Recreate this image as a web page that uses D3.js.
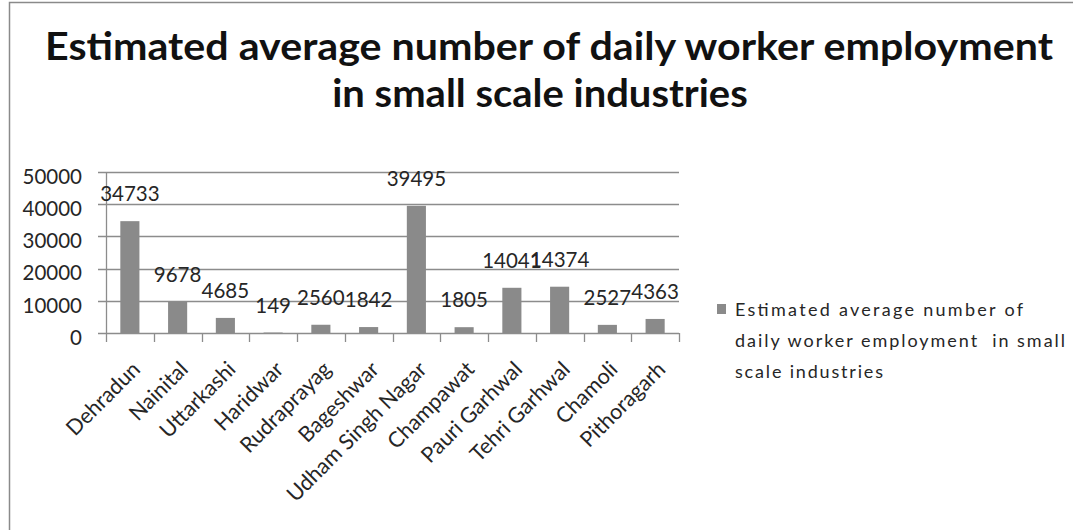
<!DOCTYPE html>
<html>
<head>
<meta charset="utf-8">
<script src="https://cdn.jsdelivr.net/npm/d3@7/dist/d3.min.js"></script>
<style>
  html, body { margin: 0; padding: 0; background: #fff; }
  svg { display: block; }
  text { font-family: Lato, "Open Sans", sans-serif; }
</style>
</head>
<body>
<svg id="chart" width="1073" height="530"></svg>
<script>
// District-wise daily worker employment in small scale industries
const districts = ["Dehradun", "Nainital", "Uttarkashi", "Haridwar", "Rudraprayag", "Bageshwar",
  "Udham Singh Nagar", "Champawat", "Pauri Garhwal", "Tehri Garhwal", "Chamoli", "Pithoragarh"];
const workers = [34733, 9678, 4685, 149, 2560, 1842, 39495, 1805, 14041, 14374, 2527, 4363];
const yTicks = [0, 10000, 20000, 30000, 40000, 50000];
const titleLines = ["Estimated average number of daily worker employment", "in small scale industries"];
const legendLines = ["Estimated average number of", "daily worker employment  in small", "scale industries"];

const svg = d3.select("#chart");
const W = 1073, H = 530;
const plot = { left: 106, right: 679, top: 172, bottom: 333 };
const barColor = "#8a8a8a";
const lineColor = "#8c8c8c";
const textColor = "#262626";

// outer chart border
svg.append("rect")
  .attr("x", 9.5).attr("y", 2.5)
  .attr("width", W + 20).attr("height", H + 20)
  .attr("fill", "#fff").attr("stroke", "#8a8a8a").attr("stroke-width", 1.5);

// title, stretched to a common width
const titleG = svg.append("g").attr("fill", "#111").attr("font-weight", "bold").attr("font-size", 39);
const t1 = titleG.append("text").attr("x", 549).attr("y", 60).attr("text-anchor", "middle").text(titleLines[0]);
const t2 = titleG.append("text").attr("x", 540).attr("y", 107).attr("text-anchor", "middle").text(titleLines[1]);
const k = 1008 / t1.node().getComputedTextLength();
t1.attr("textLength", 1008).attr("lengthAdjust", "spacingAndGlyphs");
t2.attr("textLength", t2.node().getComputedTextLength() * k * 0.97).attr("lengthAdjust", "spacingAndGlyphs");

const x = d3.scaleBand().domain(districts).range([plot.left, plot.right])
  .paddingInner(0.6).paddingOuter(0.3);
const y = d3.scaleLinear().domain([0, 50000]).range([plot.bottom, plot.top]);

// horizontal gridlines
svg.append("g").selectAll("line").data(yTicks).join("line")
  .attr("x1", plot.left - 8).attr("x2", plot.right)
  .attr("y1", d => Math.round(y(d)) + 0.5).attr("y2", d => Math.round(y(d)) + 0.5)
  .attr("stroke", lineColor).attr("stroke-width", 1.3);

// y axis labels
const yAxis = svg.append("g").attr("transform", `translate(${plot.left},0)`)
  .call(d3.axisLeft(y).tickValues(yTicks).tickSize(0).tickPadding(24).tickFormat(d3.format("d")));
yAxis.select(".domain").remove();
yAxis.selectAll("text").attr("font-size", 20.5).attr("fill", textColor).attr("dy", "0.55em")
  .attr("font-family", "Lato, sans-serif");

// bars
svg.append("g").selectAll("rect").data(workers).join("rect")
  .attr("x", (d, i) => x(districts[i]))
  .attr("width", x.bandwidth())
  .attr("y", d => y(d))
  .attr("height", d => y(0) - y(d))
  .attr("fill", barColor);

// axis lines
svg.append("line")
  .attr("x1", plot.left + 0.5).attr("x2", plot.left + 0.5)
  .attr("y1", plot.top).attr("y2", plot.bottom)
  .attr("stroke", lineColor).attr("stroke-width", 1.3);

// category boundary ticks on the x axis
const boundaries = d3.range(districts.length + 1).map(i => plot.left + i * x.step());
svg.append("g").selectAll("line").data(boundaries).join("line")
  .attr("x1", d => Math.round(d) + 0.5).attr("x2", d => Math.round(d) + 0.5)
  .attr("y1", plot.bottom).attr("y2", plot.bottom + 9)
  .attr("stroke", lineColor).attr("stroke-width", 1.3);

// value labels above bars
svg.append("g").selectAll("text").data(workers).join("text")
  .attr("x", (d, i) => x(districts[i]) + x.bandwidth() / 2)
  .attr("y", d => y(d) - 20)
  .attr("text-anchor", "middle")
  .attr("font-size", 20.5).attr("fill", textColor)
  .text(d => d);

// rotated category labels
svg.append("g").selectAll("text").data(districts).join("text")
  .attr("transform", d => `translate(${x(d) + x.bandwidth() / 2 + 1},${plot.bottom + 27}) rotate(-45)`)
  .attr("text-anchor", "end")
  .attr("dy", "0.7em")
  .attr("font-size", 21.5).attr("fill", textColor)
  .text(d => d);

// legend
const legendWidths = [288, 330, 148];
const lg = svg.append("g");
lg.append("rect").attr("x", 717).attr("y", 304).attr("width", 9).attr("height", 10).attr("fill", barColor);
lg.selectAll("text").data(legendLines).join("text")
  .attr("x", 735).attr("y", (d, i) => 316 + i * 31)
  .attr("font-size", 18).attr("fill", textColor)
  .attr("xml:space", "preserve")
  .style("white-space", "pre")
  .attr("textLength", (d, i) => legendWidths[i])
  .attr("lengthAdjust", "spacing")
  .text(d => d);
</script>
</body>
</html>
